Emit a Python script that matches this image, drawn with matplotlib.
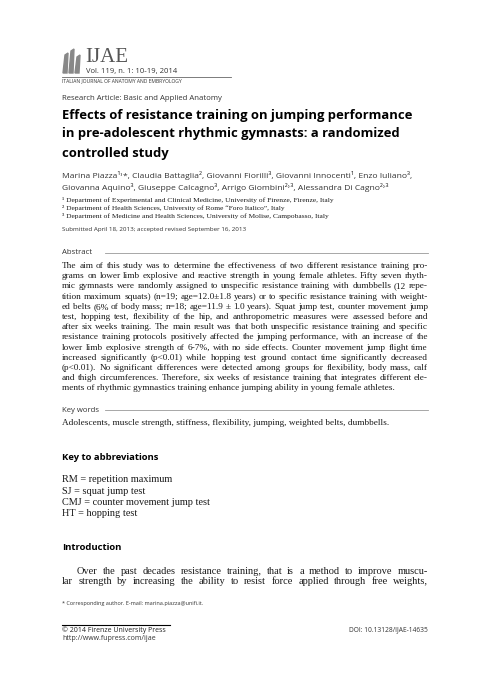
import matplotlib
matplotlib.use("Agg")
import matplotlib.pyplot as plt
from matplotlib.patches import Polygon

W, H = 482, 680
fig = plt.figure(figsize=(W/100, H/100), dpi=100)
fig.patch.set_facecolor("white")
L, R = 62, 428

title_lines = ["Effects of resistance training on jumping performance",
               "in pre-adolescent rhythmic gymnasts: a randomized",
               "controlled study"]
author_lines = ["Marina Piazza\u00b9\u02d2*, Claudia Battaglia\u00b2, Giovanni Fiorilli\u00b3, Giovanni Innocenti\u00b9, Enzo Iuliano\u00b3,",
                "Giovanna Aquino\u00b3, Giuseppe Calcagno\u00b3, Arrigo Giombini\u00b2\u02d2\u00b3, Alessandra Di Cagno\u00b2\u02d2\u00b3"]
affil_lines = ["\u00b9 Department of Experimental and Clinical Medicine, University of Firenze, Firenze, Italy",
               "\u00b2 Department of Health Sciences, University of Rome \u201cForo Italico\u201d, Italy",
               "\u00b3 Department of Medicine and Health Sciences, University of Molise, Campobasso, Italy"]
abstract_lines = [
 "The aim of this study was to determine the effectiveness of two different resistance training pro-",
 "grams on lower limb explosive and reactive strength in young female athletes. Fifty seven rhyth-",
 "mic gymnasts were randomly assigned to unspecific resistance training with dumbbells (12 repe-",
 "tition maximum squats) (n=19; age=12.0\u00b11.8 years) or to specific resistance training with weight-",
 "ed belts (6% of body mass; n=18; age=11.9 \u00b1 1.0 years). Squat jump test, counter movement jump",
 "test, hopping test, flexibility of the hip, and anthropometric measures were assessed before and",
 "after six weeks training. The main result was that both unspecific resistance training and specific",
 "resistance training protocols positively affected the jumping performance, with an increase of the",
 "lower limb explosive strength of 6-7%, with no side effects. Counter movement jump flight time",
 "increased significantly (p<0.01) while hopping test ground contact time significantly decreased",
 "(p<0.01). No significant differences were detected among groups for flexibility, body mass, calf",
 "and thigh circumferences. Therefore, six weeks of resistance training that integrates different ele-",
 "ments of rhythmic gymnastics training enhance jumping ability in young female athletes."]
keywords = "Adolescents, muscle strength, stiffness, flexibility, jumping, weighted belts, dumbbells."
abbrev_lines = ["RM = repetition maximum", "SJ = squat jump test",
                "CMJ = counter movement jump test", "HT = hopping test"]
intro_lines = ["Over the past decades resistance training, that is a method to improve muscu-",
               "lar strength by increasing the ability to resist force applied through free weights,"]

def T(x, y, s, **kw):
    kw.setdefault("va", "center")
    return fig.text(x/W, 1-y/H, s, **kw)

fig.canvas.draw()
rend = fig.canvas.get_renderer()

def justify(x0, x1, y, line, **kw):
    words = line.split(" ")
    arts = [T(0, y, w, **kw) for w in words]
    widths = [a.get_window_extent(rend).width for a in arts]
    gap = (x1 - x0 - sum(widths)) / max(len(words)-1, 1)
    x = x0
    for a, w in zip(arts, widths):
        a.set_x(x/W)
        x += w + gap

serif = dict(family=["Liberation Serif", "DejaVu Serif"], color="#1a1a1a")
sans = dict(family=["Open Sans", "DejaVu Sans"], color="#333333")

# logo
for dx, h in [(0, 18), (6, 22), (12, 16)]:
    fig.patches.append(Polygon([((L+1+dx)/W, 1-73/H), ((L+3+dx)/W, 1-(73-h)/H),
                                ((L+6+dx)/W, 1-(73-h-2)/H), ((L+5+dx)/W, 1-73/H)],
                               closed=True, transform=fig.transFigure, color="#888888"))
T(85, 57, "IJAE", fontsize=15, family="Liberation Serif", color="#555555")
T(86, 71, "Vol. 119, n. 1: 10-19, 2014", fontsize=5.5, **sans)
fig.add_artist(plt.Line2D([L/W, 231/W], [1-76.5/H]*2, color="#666666", lw=0.6))
T(L, 81, "ITALIAN JOURNAL OF ANATOMY AND EMBRYOLOGY", fontsize=3.6, **sans)

T(L, 99, "Research Article: Basic and Applied Anatomy", fontsize=5.6, **sans)
for i, s in enumerate(title_lines):
    T(L, 115 + i*19, s, fontsize=9.4, weight="bold", family="Open Sans", color="black")
for i, s in enumerate(author_lines):
    T(L, 175 + i*12, s, fontsize=6.1, **sans)
for i, s in enumerate(affil_lines):
    T(L, 200 + i*8.2, s, fontsize=5.4, **serif)
T(L, 230, "Submitted April 18, 2013; accepted revised September 16, 2013", fontsize=4.5, **sans)

T(L, 253, "Abstract", fontsize=5.6, **sans)
fig.add_artist(plt.Line2D([105/W, R/W], [1-253/H]*2, color="#999999", lw=0.6))
for i, s in enumerate(abstract_lines):
    if i == len(abstract_lines) - 1:
        T(L, 266 + i*10.2, s, fontsize=6.7, **serif)
    else:
        justify(L, R, 266 + i*10.2, s, fontsize=6.7, **serif)

T(L, 410, "Key words", fontsize=5.6, **sans)
fig.add_artist(plt.Line2D([105/W, R/W], [1-410/H]*2, color="#999999", lw=0.6))
T(L, 423, keywords, fontsize=6.7, **serif)

T(L, 457, "Key to abbreviations", fontsize=6.8, weight="bold", family="Open Sans", color="black")
for i, s in enumerate(abbrev_lines):
    T(L, 480 + i*11.3, s, fontsize=7.4, **serif)

T(L, 548, "Introduction", fontsize=6.8, weight="bold", family="Open Sans", color="black")
justify(L + 15, R, 571, intro_lines[0], fontsize=7.5, **serif)
justify(L, R, 582, intro_lines[1], fontsize=7.5, **serif)

T(L, 604, "* Corresponding author. E-mail: marina.piazza@unifi.it.", fontsize=4.0, **sans)
fig.add_artist(plt.Line2D([L/W, 170/W], [1-624.5/H]*2, color="black", lw=0.8))
T(L, 630, "\u00a9 2014 Firenze University Press", fontsize=5.0, family="Open Sans", color="#222222")
T(L, 638, "http://www.fupress.com/ijae", fontsize=5.0, **sans)
T(R, 630, "DOI: 10.13128/IJAE-14635", fontsize=4.8, ha="right", **sans)

fig.savefig("out.png", dpi=100, facecolor="white")
